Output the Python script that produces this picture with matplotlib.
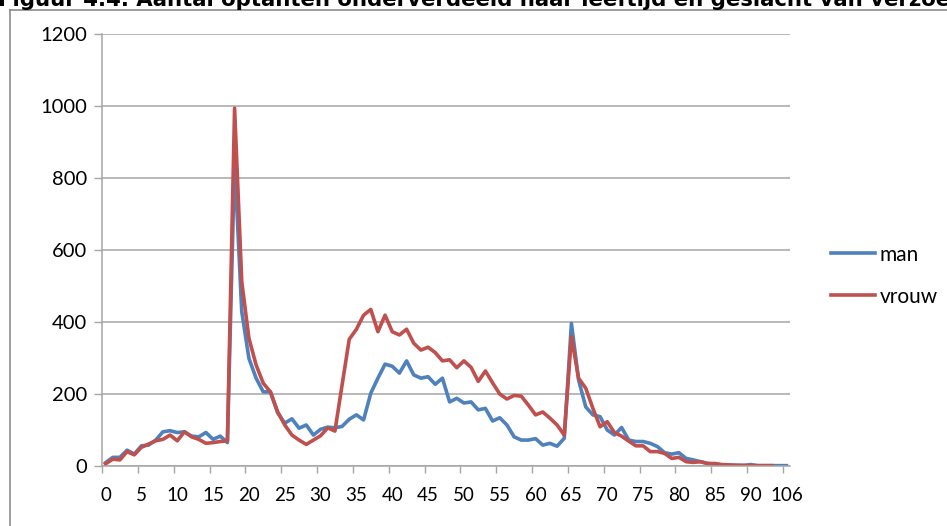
import numpy as np
import matplotlib
matplotlib.use("Agg")
from matplotlib import pyplot as plt
from matplotlib.lines import Line2D

# leeftijden (categorieen op de x-as): 0..94 en daarna 106
ages = list(range(95)) + [106]

# aantal optanten per leeftijd
man = [9, 24, 24, 44, 33, 56, 58, 72, 95, 98,
       93, 95, 83, 81, 93, 74, 83, 65, 850, 429,
       299, 244, 206, 206, 148, 119, 131, 105, 114, 86,
       102, 108, 106, 110, 130, 142, 128, 202, 244, 283,
       277, 258, 292, 253, 244, 248, 227, 244, 178, 188,
       175, 178, 156, 160, 125, 134, 114, 81, 72, 72,
       76, 58, 63, 55, 77, 396, 239, 164, 142, 137,
       100, 86, 107, 72, 68, 68, 63, 54, 37, 33,
       37, 21, 17, 12, 7, 5, 3, 2, 2, 1,
       4, 1, 1, 1, 1, 1]
vrouw = [6, 19, 17, 40, 31, 52, 61, 70, 74, 86,
         70, 95, 81, 74, 63, 65, 68, 70, 994, 512,
         355, 281, 230, 206, 151, 114, 86, 72, 60, 72,
         84, 106, 97, 225, 352, 380, 419, 435, 373, 419,
         373, 364, 380, 341, 322, 330, 315, 292, 295, 273,
         292, 274, 235, 264, 231, 200, 186, 196, 194, 169,
         142, 150, 133, 114, 86, 359, 244, 216, 160, 109,
         123, 93, 83, 69, 56, 56, 40, 40, 35, 21,
         24, 12, 10, 12, 7, 7, 4, 3, 2, 2,
         1, 1, 1, 1, np.nan, np.nan]

title = "Figuur 4.4. Aantal optanten onderverdeeld naar leeftijd en geslacht van verzoekers"

W, H = 947, 526
fig = plt.figure(figsize=(W / 100, H / 100), dpi=100)
ax = fig.add_axes([102 / W, 1 - 466 / H, (790 - 102) / W, (466 - 34) / H])

pos = np.arange(len(ages))
ax.plot(pos, man, color='#4F81BD', lw=2.6, label='man', solid_joinstyle='round')
ax.plot(pos, vrouw, color='#C0504D', lw=2.6, label='vrouw', solid_joinstyle='round')

ax.set_xlim(-0.5, len(ages) - 0.5)
ax.set_ylim(0, 1200)
ax.set_yticks(range(0, 1201, 200))
ax.grid(axis='y', color='#a6a6a6', lw=1.1)
ax.set_axisbelow(True)

# tickmarks tussen categorieen, labels op de categorieen
ax.set_xticks(np.arange(-0.5, len(ages) - 1, 5))
ax.set_xticklabels([])
ax.set_xticks(pos[::5], minor=True)
ax.set_xticklabels([str(a) for a in ages[::5]], minor=True)
ax.tick_params(axis='x', which='major', length=5, width=1, color='#a6a6a6')
ax.tick_params(axis='x', which='minor', length=0, pad=15)
ax.tick_params(axis='y', length=5.5, width=1, color='#a6a6a6', pad=5)

for lab in ax.get_xticklabels(minor=True):
    lab.set_fontfamily('Lato')
    lab.set_fontsize(13.5)
for lab in ax.get_yticklabels():
    lab.set_fontfamily('Lato')
    lab.set_fontsize(14.5)

for s in ['top', 'right']:
    ax.spines[s].set_visible(False)
for s in ['left', 'bottom']:
    ax.spines[s].set_color('#a6a6a6')
    ax.spines[s].set_linewidth(1.1)

leg = fig.legend(loc='upper left', bbox_to_anchor=(812 / W, 1 - 226 / H),
                 frameon=False, handlelength=2.1, handletextpad=0.25,
                 labelspacing=1.05, prop={'family': 'Lato', 'size': 15})

# rand van het grafiekgebied (deels buiten beeld)
fig.add_artist(Line2D([10 / W, 10 / W], [0, 1 - 9.5 / H], color='#8c8c8c', lw=1.2))
fig.add_artist(Line2D([10 / W, 1], [1 - 9.5 / H, 1 - 9.5 / H], color='#8c8c8c', lw=1.2))

# titel, bovenkant valt buiten beeld
fig.text(-2 / W, 1 - 5.5 / H, title, fontsize=15.3, fontweight='bold',
         family='DejaVu Sans', va='baseline', ha='left')

fig.savefig('out.png', dpi=100)
